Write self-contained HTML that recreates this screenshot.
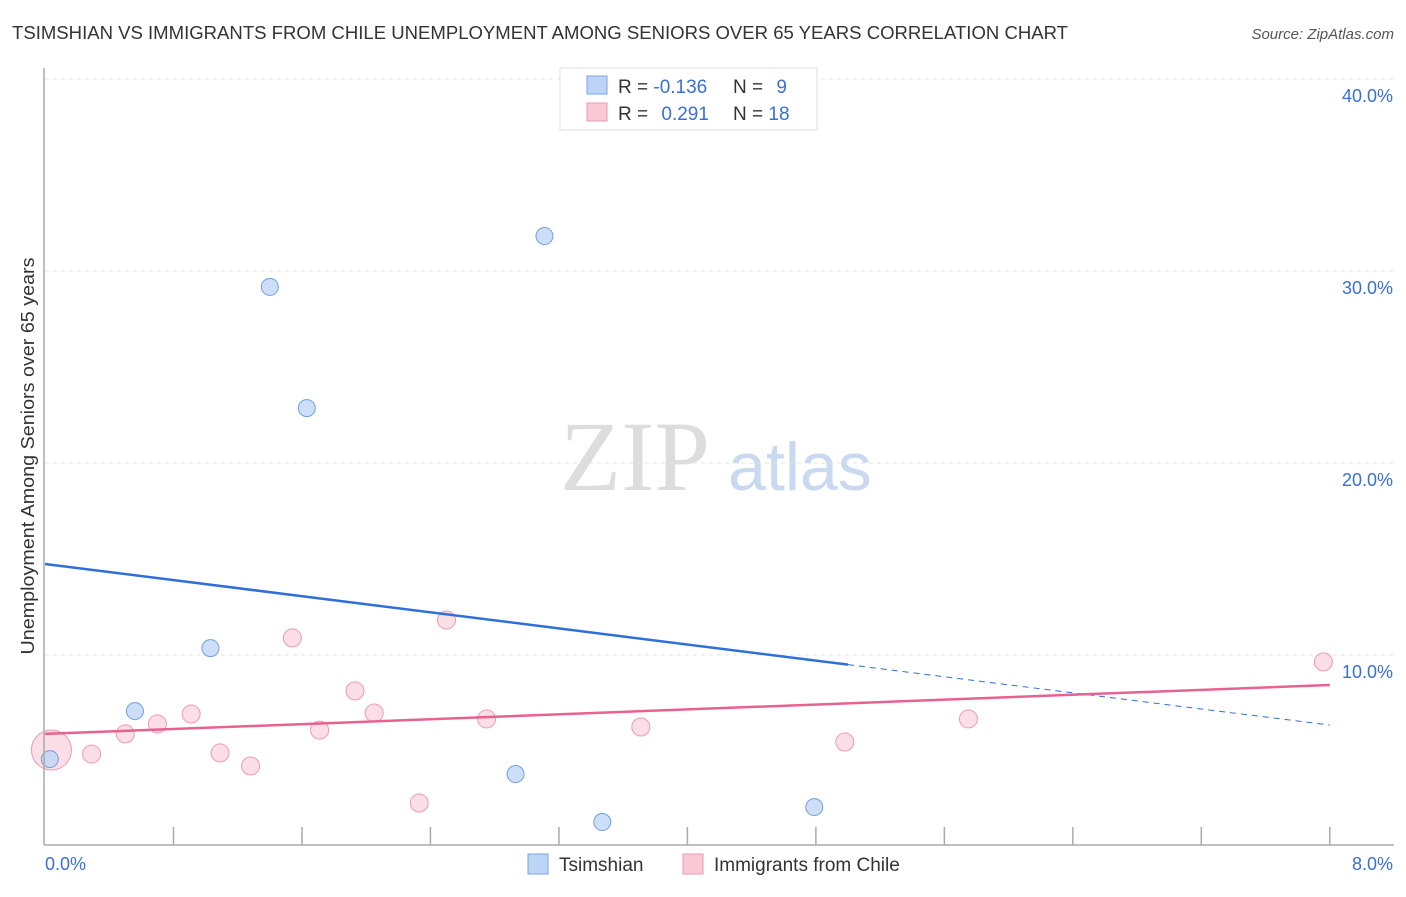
<!DOCTYPE html>
<html><head><meta charset="utf-8"><style>
body{margin:0;background:#fff;font-family:"Liberation Sans",sans-serif;}
svg text{font-family:"Liberation Sans",sans-serif;}
svg text.serif{font-family:"Liberation Serif",serif;}
</style></head><body>
<svg width="1406" height="892" id="chart">
<text x="12" y="39" font-size="18" fill="#333" textLength="1056" lengthAdjust="spacingAndGlyphs">TSIMSHIAN VS IMMIGRANTS FROM CHILE UNEMPLOYMENT AMONG SENIORS OVER 65 YEARS CORRELATION CHART</text>
<text x="1394" y="39" font-size="15" fill="#555" font-style="italic" text-anchor="end">Source: ZipAtlas.com</text>
<text x="635" y="490" font-size="100" fill="#ddd" class="serif" text-anchor="middle">ZIP</text>
<text x="800" y="490" font-size="68" fill="#c9daf0" text-anchor="middle">atlas</text>
<text transform="translate(34,456) rotate(-90)" font-size="18" fill="#333" text-anchor="middle" textLength="397" lengthAdjust="spacingAndGlyphs">Unemployment Among Seniors over 65 years</text>
<g id="grid"></g><g id="marks"></g>
<line x1="44" y1="68" x2="44" y2="845" stroke="#aaa" stroke-width="1.5"/>
<line x1="44" y1="845" x2="1394" y2="845" stroke="#aaa" stroke-width="1.5"/>
<text x="45" y="870" font-size="18" fill="#3a6fd8">0.0%</text>
<text x="1393" y="870" font-size="18" fill="#3a6fd8" text-anchor="end">8.0%</text>
<g>
<rect x="560" y="68" width="257" height="62" fill="#fff" stroke="#ddd"/>
<rect x="587" y="76" width="20" height="18" fill="#bcd4f5" stroke="#7aa6e6"/>
<rect x="587" y="103" width="20" height="18" fill="#f9c8d6" stroke="#ee9ab3"/>
<text x="618" y="93" font-size="19" fill="#333">R = <tspan fill="#3a6fd8">-0.136</tspan></text>
<text x="733" y="93" font-size="19" fill="#333">N = <tspan fill="#3a6fd8" dx="8">9</tspan></text>
<text x="618" y="120" font-size="19" fill="#333">R = <tspan fill="#3a6fd8" dx="8">0.291</tspan></text>
<text x="733" y="120" font-size="19" fill="#333">N = <tspan fill="#3a6fd8">18</tspan></text>
</g>
<g>
<rect x="528" y="854" width="20" height="20" fill="#bcd4f5" stroke="#7aa6e6"/>
<text x="559" y="871" font-size="19" fill="#333">Tsimshian</text>
<rect x="683" y="854" width="20" height="20" fill="#f9c8d6" stroke="#ee9ab3"/>
<text x="714" y="871" font-size="19" fill="#333">Immigrants from Chile</text>
</g>
</svg>
<script>
const yTicks=[10,20,30,40];
const xTickCount=10;
const blueX=[0.03,0.56,1.03,1.40,1.63,3.11,2.93,3.47,4.79];
const blueY=[4.58,7.08,10.36,29.17,22.86,31.82,3.80,1.30,2.08];
const pinkX=[0.04,0.29,0.50,0.70,0.91,1.09,1.28,1.54,1.71,1.93,2.05,2.33,2.50,2.75,3.71,4.98,5.75,7.96];
const pinkY=[5.05,4.84,5.89,6.41,6.93,4.90,4.22,10.89,6.09,8.13,6.98,2.29,11.82,6.67,6.25,5.47,6.67,9.64];
const pinkR=[20,9,9,9,9,9,9,9,9,9,9,9,9,9,9,9,9,9];
const blueTrend=[14.74,6.35];
const blueSolidEnd=5.0;
const pinkTrend=[5.89,8.44];
const NS='http://www.w3.org/2000/svg';
const sx=v=>45+v*160.6, sy=v=>847-v*19.2;
function mk(t,a,p){const e=document.createElementNS(NS,t);for(const k in a)e.setAttribute(k,a[k]);p.appendChild(e);return e;}
const grid=document.getElementById('grid'),marks=document.getElementById('marks');
yTicks.forEach(t=>{
 const l=mk('line',{x1:45,x2:1394,y1:sy(t),y2:sy(t),stroke:'#e3e3e3','stroke-dasharray':'4,4'},grid);
 
 
 const tx=mk('text',{x:1393,y:sy(t)+23,'font-size':18,fill:'#3a6fd8','text-anchor':'end'},grid);
 tx.textContent=t.toFixed(1)+'%';
 
 
});
for(let i=1;i<=xTickCount;i++){
 const l=mk('line',{x1:sx(i*0.8),x2:sx(i*0.8),y1:827,y2:845,stroke:'#aaa','stroke-width':1.5},grid);
 
 
}
pinkX.forEach((x,i)=>{
 const c=mk('circle',{cx:sx(x),cy:sy(pinkY[i]),r:pinkR[i],fill:'#f9c8d6','fill-opacity':0.6,stroke:'#ee9ab3'},marks);
 
 
});
blueX.forEach((x,i)=>{
 const c=mk('circle',{cx:sx(x),cy:sy(blueY[i]),r:8.5,fill:'#bcd4f5','fill-opacity':0.75,stroke:'#6f9fe3'},marks);
 
 
});
const bAt=x=>blueTrend[0]+(blueTrend[1]-blueTrend[0])*x/8;
let l1=mk('line',{x1:sx(0),y1:sy(bAt(0)),x2:sx(blueSolidEnd),y2:sy(bAt(blueSolidEnd)),stroke:'#2f6fd9','stroke-width':2.5},marks);


let l2=mk('line',{x1:sx(blueSolidEnd),y1:sy(bAt(blueSolidEnd)),x2:sx(8),y2:sy(bAt(8)),stroke:'#2f6fd9','stroke-width':1,'stroke-dasharray':'6,5'},marks);


let l3=mk('line',{x1:sx(0),y1:sy(pinkTrend[0]),x2:sx(8),y2:sy(pinkTrend[1]),stroke:'#e8628f','stroke-width':2.5},marks);


</script>
</body></html>
